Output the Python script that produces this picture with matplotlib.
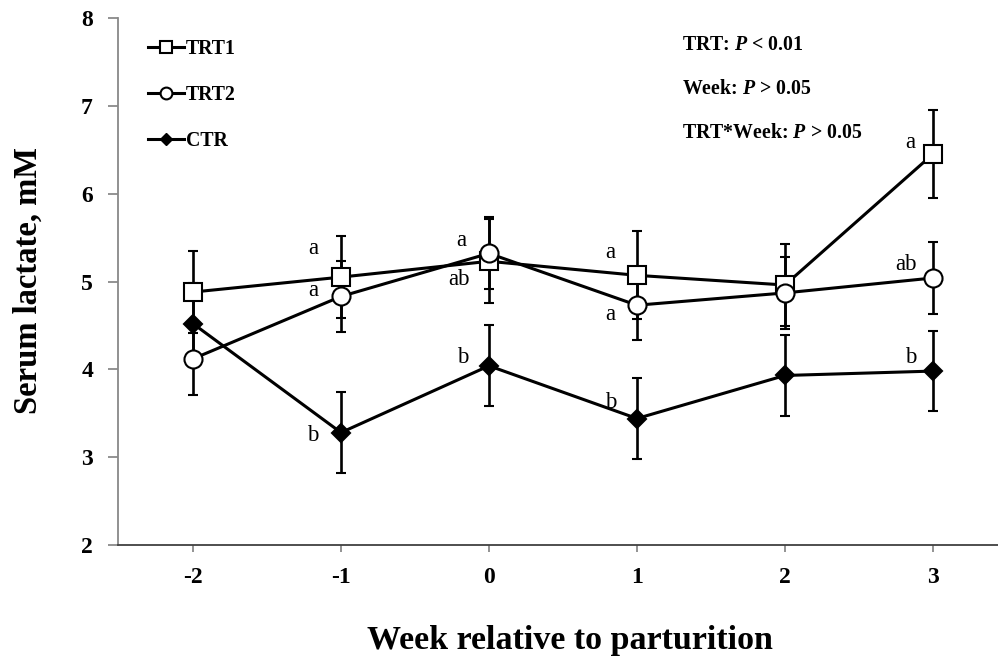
import matplotlib
matplotlib.use("Agg")
import matplotlib.pyplot as plt
from matplotlib.lines import Line2D

plt.rcParams['font.family'] = ['Liberation Serif', 'DejaVu Serif']
plt.rcParams['mathtext.fontset'] = 'custom'
plt.rcParams['mathtext.it'] = 'Liberation Serif:italic:bold'
plt.rcParams['mathtext.rm'] = 'Liberation Serif:bold'
plt.rcParams['axes.unicode_minus'] = False

weeks = [-2, -1, 0, 1, 2, 3]
trt1 = [4.88, 5.05, 5.23, 5.07, 4.96, 6.45]
trt1_se = [0.47, 0.47, 0.48, 0.50, 0.47, 0.50]
trt2 = [4.12, 4.83, 5.32, 4.73, 4.87, 5.04]
trt2_se = [0.41, 0.40, 0.41, 0.40, 0.41, 0.41]
ctr = [4.52, 3.28, 4.04, 3.44, 3.93, 3.98]
ctr_se = [0.46, 0.46, 0.46, 0.46, 0.46, 0.46]

# significance letters
letters_x = [-1.19, -1.19, -1.19, -0.19, -0.20, -0.18, 0.82, 0.82, 0.82, 2.85, 2.82, 2.85]
letters_y = [5.38, 4.90, 3.25, 5.47, 5.02, 4.13, 5.33, 4.62, 3.62, 6.58, 5.19, 4.13]
letters_t = ['a', 'a', 'b', 'a', 'ab', 'b', 'a', 'a', 'b', 'a', 'ab', 'b']

stats = [r"TRT: $P$ < 0.01", r"Week: $P$ > 0.05", r"TRT*Week: $P$ > 0.05"]
legend_labels = ['TRT1', 'TRT2', 'CTR']

fig = plt.figure(figsize=(9.98, 6.64), dpi=100)
ax = fig.add_axes([118/998, 1-545/664, 1-118/998, (545-18)/664])

lw = 2.2
common = dict(color='black', lw=lw, elinewidth=1.9, capsize=3.6, capthick=1.9,
              markeredgewidth=1.5, markeredgecolor='black')
ax.errorbar(weeks, trt1, yerr=trt1_se, marker='s', markersize=12.5,
            markerfacecolor='white', **common)
ax.errorbar(weeks, trt2, yerr=trt2_se, marker='o', markersize=13,
            markerfacecolor='white', **common)
ax.errorbar(weeks, ctr, yerr=ctr_se, marker='D', markersize=9.5,
            markerfacecolor='black', **common)

for x, y, t in zip(letters_x, letters_y, letters_t):
    ax.text(x, y, t, fontsize=16.5, ha='center', va='center')

ax.set_xlim(-2.507, 3.44)
ax.set_ylim(2, 8)
ax.set_xticks(weeks)
ax.set_yticks([2, 3, 4, 5, 6, 7, 8])
for lab in ax.get_xticklabels() + ax.get_yticklabels():
    lab.set_fontweight('bold')
    lab.set_fontsize(17)
ax.tick_params(axis='x', length=5, width=1.2, color='#808080', pad=11)
ax.tick_params(axis='y', length=7, width=1.2, color='#808080', pad=11)
ax.spines['top'].set_visible(False)
ax.spines['right'].set_visible(False)
ax.spines['left'].set_color('#888888')
ax.spines['left'].set_linewidth(1.3)
ax.spines['bottom'].set_color('#404040')
ax.spines['bottom'].set_linewidth(1.3)

fig.text(28/998, 1-280/664, 'Serum lactate, mM', rotation=90, fontsize=23.5,
         fontweight='bold', ha='center', va='center')
fig.text(570/998, 1-640/664, 'Week relative to parturition', fontsize=24.5,
         fontweight='bold', ha='center', va='center')

for i, s in enumerate(stats):
    fig.text(682/998, 1-(45+44*i)/664, s, fontsize=14.3, fontweight='bold',
             ha='left', va='center')

handles = [
    Line2D([], [], color='black', lw=lw, marker='s', markersize=8,
           markerfacecolor='white', markeredgewidth=1.5, markeredgecolor='black'),
    Line2D([], [], color='black', lw=lw, marker='o', markersize=8.5,
           markerfacecolor='white', markeredgewidth=1.5, markeredgecolor='black'),
    Line2D([], [], color='black', lw=lw, marker='D', markersize=6.5,
           markerfacecolor='black', markeredgecolor='black'),
]
leg = ax.legend(handles, legend_labels, loc='upper left',
                bbox_to_anchor=(12/880, 1-3/527), frameon=False,
                handlelength=1.8, handletextpad=0.1, labelspacing=1.3,
                prop={'weight': 'bold', 'size': 14.3})

fig.savefig('out.png', dpi=100)
